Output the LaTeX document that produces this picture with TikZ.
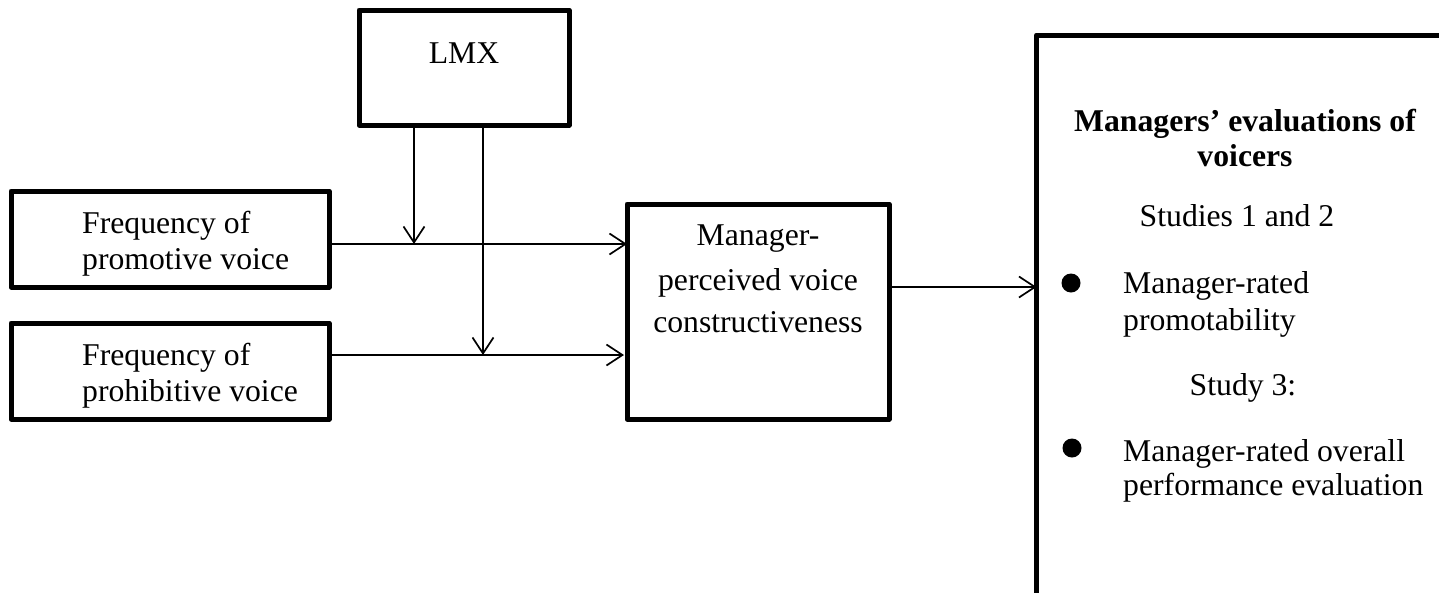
\documentclass[tikz,border=0pt]{standalone}
\usepackage{fontspec}
\setmainfont{Liberation Serif}
\usetikzlibrary{arrows.meta}
\begin{document}
\begin{tikzpicture}[x=1pt,y=-1pt,
  box/.style={draw, line width=5pt, line join=round, rectangle, inner sep=0pt, outer sep=0pt},
  conn/.style={line width=1.7pt, -{Straight Barb[length=16pt,width=21pt,line width=1.7pt]}},
  txt/.style={inner sep=0pt, anchor=base, font=\fontsize{31.7}{36}\selectfont},
  txtl/.style={txt, anchor=base west},
  btxt/.style={txt, font=\fontsize{31.7}{36}\selectfont\bfseries},
  bullet/.style={circle, fill=black, inner sep=0pt, minimum size=19pt}]
\useasboundingbox (0,0) rectangle (1439,592);
\clip (0,0) rectangle (1439,592);
% boxes
\node[box, minimum width=210pt, minimum height=115pt] (lmx) at (464,67.5) {};
\node[box, minimum width=318pt, minimum height=96pt] (promo) at (170,239) {};
\node[box, minimum width=318pt, minimum height=96pt] (prohib) at (170,371) {};
\node[box, minimum width=262pt, minimum height=215pt] (mgr) at (758,311.5) {};
\node[box, minimum width=430pt, minimum height=560.5pt, anchor=north west] (eval) at (1036.5,35) {};
% texts
\node[txt] (tlmx) at (464,63) {LMX};
\node[txtl] (tp1) at (82,233) {Frequency of};
\node[txtl] (tp2) at (82,269) {promotive voice};
\node[txtl] (th1) at (82,365) {Frequency of};
\node[txtl] (th2) at (82,401) {prohibitive voice};
\node[txt] (tm1) at (758,245) {Manager-};
\node[txt] (tm2) at (758,290) {perceived voice};
\node[txt] (tm3) at (758,332) {constructiveness};
\node[btxt] (te1) at (1245,131) {Managers’ evaluations of};
\node[btxt] (te2) at (1245,166) {voicers};
\node[txt] (te3) at (1237,226) {Studies 1 and 2};
\node[bullet] (b1) at (1071,283) {};
\node[txtl] (te4) at (1123,293) {Manager-rated};
\node[txtl] (te5) at (1123,330) {promotability};
\node[txt] (te6) at (1243,395) {Study 3:};
\node[bullet] (b2) at (1072,448) {};
\node[txtl] (te7) at (1123,461) {Manager-rated overall};
\node[txtl] (te8) at (1123,495) {performance evaluation};
% connector levels
\coordinate (y1) at (0,244);
\coordinate (y2) at (0,355);
\coordinate (y3) at (0,287);
\coordinate (v1) at (414,0);
\coordinate (v2) at (483,0);
% connectors
\draw[conn] (promo.east |- y1) -- (mgr.west |- y1);
\draw[conn] (prohib.east |- y2) -- ([xshift=-3pt]mgr.west |- y2);
\draw[conn] (lmx.south -| v1) -- (v1 |- y1);
\draw[conn] (lmx.south -| v2) -- (v2 |- y2);
\draw[conn] (mgr.east |- y3) -- (eval.west |- y3);
\end{tikzpicture}
\end{document}
